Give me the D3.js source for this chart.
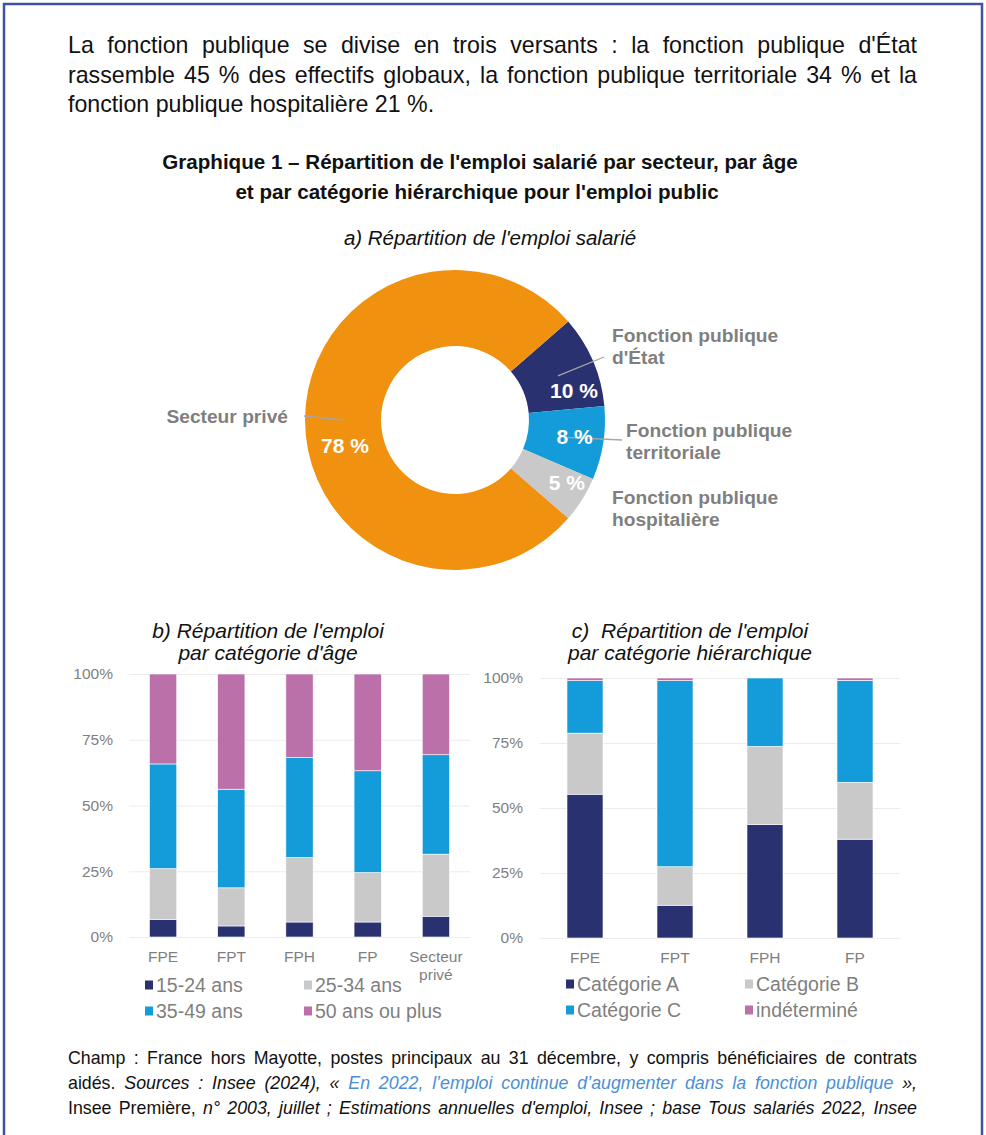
<!DOCTYPE html>
<html>
<head>
<meta charset="utf-8">
<script src="https://cdn.jsdelivr.net/npm/d3@7"></script>
<style>
  body { margin: 0; background: #fff; font-family: "Liberation Sans", Arial, sans-serif; }
  #page { position: relative; width: 986px; height: 1135px; overflow: hidden; }
  #page svg { position: absolute; left: 0; top: 0; }
  .ligne { position: absolute; color: #111; white-space: nowrap; }
  .just { text-align: justify; text-align-last: justify; white-space: normal; }
  .lien { color: #4a8fd4; }
</style>
</head>
<body>
<div id="page"></div>
<script>
(function(){

	// a) répartition de l'emploi salarié
	var secteurs = ["Fonction publique d'État", "Fonction publique territoriale", "Fonction publique hospitalière", "Secteur privé"];
	var secteurLignes = [["Fonction publique", "d'État"], ["Fonction publique", "territoriale"], ["Fonction publique", "hospitalière"], ["Secteur privé"]];
	var partEmploi = [10, 8, 5, 78];

	// b) par catégorie d'âge (en %)
	var versants = ["FPE", "FPT", "FPH", "FP", "Secteur privé"];
	var tranchesAge = ["15-24 ans", "25-34 ans", "35-49 ans", "50 ans ou plus"];
	var age1524 = [6.7, 4.2, 5.7, 5.7, 7.9];
	var age2534 = [19.3, 14.5, 24.5, 18.8, 23.6];
	var age3549 = [39.8, 37.5, 38.0, 38.7, 37.8];
	var age50 = [34.2, 43.8, 31.8, 36.8, 30.7];

	// c) par catégorie hiérarchique (en %)
	var versantsFP = ["FPE", "FPT", "FPH", "FP"];
	var categories = ["Catégorie A", "Catégorie B", "Catégorie C", "indéterminé"];
	var catA = [55.3, 12.6, 43.7, 38.0];
	var catB = [23.5, 14.8, 30.0, 21.9];
	var catC = [20.2, 71.6, 26.3, 39.2];
	var catInd = [1.0, 1.0, 0, 0.9];

	var pctTicks = [0, 25, 50, 75, 100];

	var navy = "#2a3171", bleu = "#139cd9", gris = "#c9c9c9", rose = "#bb70aa", orange = "#f0910f";
	var texteGris = "#7f7f7f";
	var police = "'Liberation Sans', Arial, sans-serif";

	var page = d3.select("#page");
	var svg = page.append("svg").attr("width", 986).attr("height", 1135);

	// cadre
	svg.append("path")
		.attr("d", "M4,1135 L4,4 L982,4 L982,1135")
		.attr("fill", "none").attr("stroke", "#4251a2").attr("stroke-width", 2.5);

	// paragraphe d'introduction
	var intro = [
		"La fonction publique se divise en trois versants : la fonction publique d'État",
		"rassemble 45 % des effectifs globaux, la fonction publique territoriale 34 % et la",
		"fonction publique hospitalière 21 %."
	];
	intro.forEach(function(t, i){
		page.append("div").attr("class", "ligne" + (i < 2 ? " just" : ""))
			.style("left", "68px").style("width", "849px")
			.style("top", (30 + i * 29.5) + "px")
			.style("font-size", "23.2px").style("line-height", "30px")
			.text(t);
	});

	function titre(txt, x, y, size, weight, style){
		svg.append("text").attr("x", x).attr("y", y).attr("dy", "0.36em")
			.attr("text-anchor", "middle")
			.style("font-family", police).style("font-size", size + "px")
			.style("font-weight", weight).style("font-style", style)
			.attr("fill", "#111").text(txt);
	}

	titre("Graphique 1 – Répartition de l'emploi salarié par secteur, par âge", 480, 162, 20.6, "bold", "normal");
	titre("et par catégorie hiérarchique pour l'emploi public", 477, 192, 20.6, "bold", "normal");
	titre("a) Répartition de l'emploi salarié", 490, 238, 20.5, "normal", "italic");

	// ---- donut
	var cx = 455, cy = 420;
	var donut = svg.append("g").attr("transform", "translate(" + cx + "," + cy + ")");
	var pie = d3.pie().sort(null).startAngle(49 * Math.PI / 180).endAngle(49 * Math.PI / 180 + 2 * Math.PI);
	var arc = d3.arc().innerRadius(74).outerRadius(150);
	var arcLabel = d3.arc().innerRadius(112).outerRadius(112);
	var couleursSecteur = [navy, bleu, gris, orange];
	var slices = pie(partEmploi);

	donut.selectAll("path.part").data(slices).enter().append("path")
		.attr("class", "part")
		.attr("d", arc)
		.attr("fill", function(d, i){ return couleursSecteur[i]; });

	// étiquettes de catégorie et traits de rappel
	var etiquettes = [
		{ x: 157, y: -85, anchor: "start", trait: [149, -63] },
		{ x: 171, y: 10, anchor: "start", trait: [167, 20] },
		{ x: 157, y: 77, anchor: "start", trait: null },
		{ x: -167, y: -4, anchor: "end", trait: [-151, -4] }
	];

	donut.selectAll("line.rappel").data(slices.filter(function(d, i){ return etiquettes[i].trait; })).enter()
		.append("line").attr("class", "rappel")
		.attr("x1", function(d){ return arcLabel.centroid(d)[0]; })
		.attr("y1", function(d){ return arcLabel.centroid(d)[1]; })
		.attr("x2", function(d){ return etiquettes[d.index].trait[0]; })
		.attr("y2", function(d){ return etiquettes[d.index].trait[1]; })
		.attr("stroke", "#a6a6a6").attr("stroke-width", 1.3);

	secteurLignes.forEach(function(lignes, i){
		var e = etiquettes[i];
		var t = donut.append("text").attr("text-anchor", e.anchor)
			.style("font-family", police).style("font-size", "19.2px").style("font-weight", "bold")
			.attr("fill", texteGris);
		lignes.forEach(function(l, j){
			t.append("tspan").attr("x", e.x).attr("y", e.y + j * 22).attr("dy", "0.36em").text(l);
		});
	});

	var decalage = [[16, 15], [9, -1], [17, 3], [2, 25]];
	donut.selectAll("text.pct").data(slices).enter().append("text")
		.attr("class", "pct")
		.attr("x", function(d, i){ return arcLabel.centroid(d)[0] + decalage[i][0]; })
		.attr("y", function(d, i){ return arcLabel.centroid(d)[1] + decalage[i][1]; })
		.attr("dy", "0.36em").attr("text-anchor", "middle")
		.style("font-family", police).style("font-size", "21px").style("font-weight", "bold")
		.attr("fill", "#fff")
		.text(function(d){ return d.data + " %"; });

	// ---- histogrammes empilés
	function histogramme(opts){
		var g = svg.append("g");
		var x = d3.scaleBand().domain(opts.cats).range(opts.xr).paddingInner(0.6).paddingOuter(0.3);
		var y = d3.scaleLinear().domain([0, 100]).range(opts.yr);

		var yAxis = g.append("g").attr("transform", "translate(" + opts.xr[0] + ",0)")
			.call(d3.axisLeft(y).tickValues(pctTicks).tickSize(-(opts.xr[1] - opts.xr[0])).tickPadding(opts.pad)
				.tickFormat(function(d){ return d + "%"; }));
		yAxis.select(".domain").remove();
		yAxis.selectAll("line").attr("stroke", "#ececec");
		yAxis.selectAll("text").style("font-family", police).style("font-size", "15.5px").attr("fill", texteGris);

		var rows = opts.cats.map(function(c, i){
			var r = { cat: c };
			opts.keys.forEach(function(k, j){ r[k] = opts.series[j][i]; });
			return r;
		});
		var stack = d3.stack().keys(opts.keys)(rows);

		g.selectAll("g.serie").data(stack).enter().append("g")
			.attr("class", "serie")
			.attr("fill", function(d, i){ return opts.colors[i]; })
			.selectAll("rect").data(function(d){ return d; }).enter().append("rect")
			.attr("x", function(d){ return x(d.data.cat); })
			.attr("width", x.bandwidth())
			.attr("y", function(d){ return y(d[1]); })
			.attr("height", function(d){ return y(d[0]) - y(d[1]); })
			.attr("stroke", "#fff").attr("stroke-width", 0.6);

		var xAxis = g.append("g").attr("transform", "translate(0," + opts.yr[0] + ")")
			.call(d3.axisBottom(x).tickSize(0).tickPadding(14));
		xAxis.select(".domain").remove();
		xAxis.selectAll("text").style("font-family", police).style("font-size", "15.5px").attr("fill", texteGris)
			.each(function(d){
				var mots = d.split(" ");
				if (mots.length > 1) {
					var t = d3.select(this).text(null);
					mots.forEach(function(m, j){
						t.append("tspan").attr("x", 0).attr("dy", j === 0 ? "0.71em" : "1.15em").text(m);
					});
				}
			});

		// légende
		var leg = g.selectAll("g.leg").data(opts.keys).enter().append("g")
			.attr("class", "leg")
			.attr("transform", function(d, i){
				return "translate(" + opts.leg.x[i % 2] + "," + opts.leg.y[Math.floor(i / 2)] + ")";
			});
		leg.append("rect").attr("x", 0).attr("y", -4.5).attr("width", 8).attr("height", 9)
			.attr("fill", function(d, i){ return opts.colors[i]; });
		leg.append("text").attr("x", 11).attr("dy", "0.36em")
			.style("font-family", police).style("font-size", "19.5px").attr("fill", texteGris)
			.text(function(d){ return d; });

		titre(opts.titre[0], opts.tx, 630, 21, "normal", "italic");
		titre(opts.titre[1], opts.tx, 652, 21, "normal", "italic");
	}

	histogramme({
		cats: versants, keys: tranchesAge, series: [age1524, age2534, age3549, age50],
		colors: [navy, gris, bleu, rose],
		xr: [129, 470], yr: [937, 674], pad: 16,
		leg: { x: [145, 304], y: [985, 1011] },
		titre: ["b) Répartition de l'emploi", "par catégorie d'âge"], tx: 268
	});

	histogramme({
		cats: versantsFP, keys: categories, series: [catA, catB, catC, catInd],
		colors: [navy, gris, bleu, rose],
		xr: [540, 900], yr: [938, 678], pad: 17,
		leg: { x: [566, 745], y: [984, 1010] },
		titre: ["c)\u00a0 Répartition de l'emploi", "par catégorie hiérarchique"], tx: 690
	});

	// ---- note de bas de graphique
	var notes = [
		[["Champ : France hors Mayotte, postes principaux au 31 décembre, y compris bénéficiaires de contrats", ""]],
		[["aidés. ", ""], ["Sources : Insee (2024), « ", "i"], ["En 2022, l’emploi continue d’augmenter dans la fonction publique", "i lien"], [" »,", "i"]],
		[["Insee Première, ", ""], ["n° 2003, juillet ; Estimations annuelles d'emploi, Insee ; base Tous salariés 2022, Insee", "i"]]
	];
	notes.forEach(function(morceaux, i){
		var div = page.append("div").attr("class", "ligne just")
			.style("left", "68px").style("width", "849px")
			.style("top", (1046 + i * 25) + "px")
			.style("font-size", "17.8px").style("line-height", "24px");
		morceaux.forEach(function(m){
			div.append("span")
				.attr("class", m[1].indexOf("lien") >= 0 ? "lien" : null)
				.style("font-style", m[1].indexOf("i") === 0 ? "italic" : "normal")
				.text(m[0]);
		});
	});

})();
</script>
</body>
</html>
